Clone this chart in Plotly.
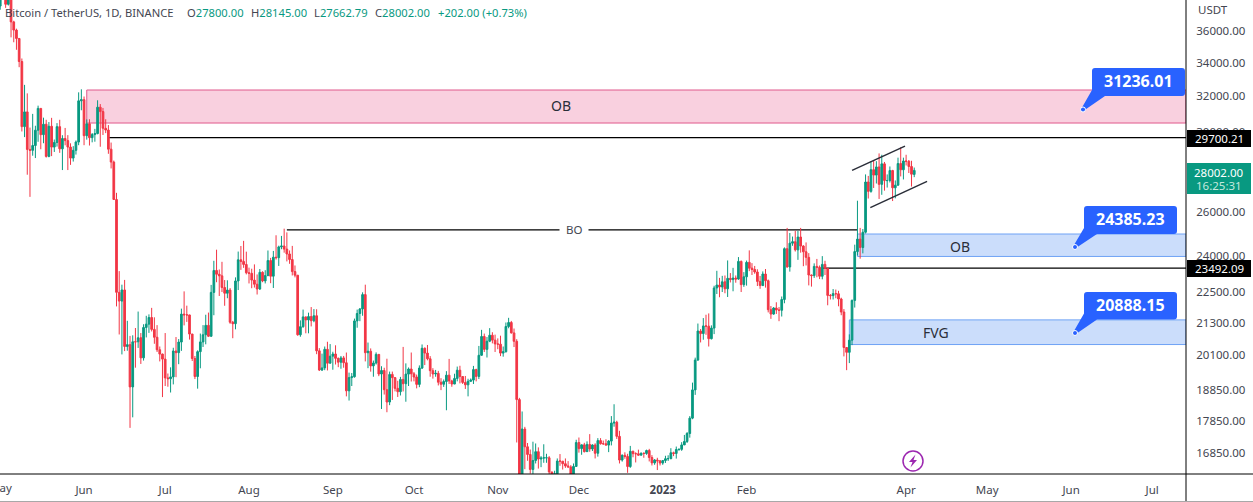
import math
import pandas as pd
import plotly.graph_objects as go

# ---------- data ----------
closes = [
38469,38529,37750,39698,36575,36040,35501,34059,30296,31109,29078,29031,29284,30101,31305,29862,30425,28716,30314,29201,29445,30293,29109,29655,29543,29201,28629,29031,29468,31734,31801,
29805,30452,29700,29865,29919,31373,31125,30204,30109,29091,28424,26574,22487,22136,22583,20401,20468,18970,20574,20573,20723,19987,21110,21237,21491,21038,20742,20281,20123,19942,
19279,19252,19315,20236,20175,20564,21624,21594,21591,20862,19963,19328,20212,20569,20836,21190,20779,22485,23389,23231,23164,22684,22451,22579,21310,21254,22952,23842,23774,23643,23293,
23268,22987,22818,22622,23312,22954,23175,23810,23149,23954,23934,24403,24441,24305,24094,23854,23342,23191,20834,21140,21516,21399,21529,21368,21560,20241,19555,19630,20297,19796,20049,
20127,19969,19832,19986,19812,18837,19290,19319,21361,21648,21826,22395,20173,20227,19701,19803,20113,19416,19537,18875,18461,19401,19288,18920,18807,19227,19079,19412,19591,19422,
19310,19056,19623,20335,20160,19955,19531,19417,19439,19131,19060,19155,19375,19176,19068,19262,19549,19327,19123,19041,19164,19204,19570,19330,20080,20771,20295,20595,20818,20635,20495,
20485,20159,20209,21148,21300,20905,20591,18542,15880,17586,17034,16799,16353,16618,16884,16663,16692,16700,16700,16280,15781,16226,16603,16598,16522,16458,16428,16212,16442,17163,
16977,17092,16885,17105,16967,17089,16836,17224,17128,17127,17085,17209,17775,17803,17356,16632,16776,16738,16438,16895,16824,16821,16778,16837,16830,16919,16707,16547,16633,16607,16542,
16616,16672,16674,16851,16830,16951,16955,17091,17196,17446,17934,18869,19909,20976,20880,21169,21161,20688,21086,22666,22783,22707,22917,22632,23060,23009,23074,23031,23774,22801,23125,
23733,23488,23431,23326,22933,22762,23240,22963,21796,21625,21862,21783,21773,22200,24324,23538,24566,24631,24272,24838,24439,24189,23947,23198,23175,23561,23522,23147,
23647,23475,22362,22354,22435,22429,22219,21705,20363,20187,20633,22163,24197,24746,24375,25055,27423,26965,28038,27767,28176,27307,28333,27493,27494,27994,27139,27268,28348,28033,28478,
28465,28199,27811,28002]
highs = [
38670,39168,38650,40023,39845,36650,36132,35502,34245,32658,32162,30243,30998,30343,31460,31305,30788,30670,30545,30777,29600,30487,30670,29830,30223,29835,29400,29250,29550,32222,32399,
31982,30690,30700,29950,30172,31765,31550,31330,30700,30380,29440,28500,26895,23362,22800,22995,21365,20792,20815,21090,21723,20900,21233,21558,21614,21868,21500,21200,20400,20141,
20900,19433,19650,20354,20750,20675,21838,22527,21955,21600,20868,20055,20260,20880,21200,21600,21683,22790,23800,24280,23430,23756,22990,22980,22660,21360,23100,24199,24442,24668,24194,
23509,23463,23647,23223,23450,23354,23400,24245,23925,24226,24918,24456,24889,25214,25047,24247,24446,23600,23200,21382,21800,21522,21680,21900,21820,21813,20340,20140,20400,20575,20489,
20208,20444,20000,20055,20057,20180,19464,19449,21450,21800,21860,22488,22799,20545,20330,19890,20185,20100,19689,19635,19957,19500,19500,19310,19180,19315,20385,19790,19645,20180,
19484,19395,19719,20475,20365,20456,20050,19620,19558,19525,19270,19225,19515,19950,19215,19425,19676,19705,19345,19347,19250,19260,19700,19600,20420,21020,20880,20750,21085,20930,20840,
20700,20800,20400,21300,21480,21360,21070,20670,18600,18150,17655,17150,16950,17190,17135,17015,16750,17110,16820,16750,16280,16315,16680,16812,16600,16680,16600,16480,16530,17250,
17320,17105,17155,17200,17425,17110,17140,17300,17300,17225,17265,17240,18000,18387,17850,17530,16800,16865,16820,17060,16915,16865,16945,16860,16860,16945,16970,16780,16660,16700,16630,
16625,16760,16775,16990,16885,17040,16980,17175,17400,17490,18000,19117,19995,21260,21050,21470,21600,21650,21190,22755,23375,23080,23165,23180,23815,23280,23500,23180,23960,23810,23320,
23810,24250,23700,23580,23440,23160,23350,23450,23010,21940,21900,22090,21900,22320,24380,25250,25020,24860,25120,25120,25250,24475,24600,24130,23220,23690,23880,23600,
24000,23800,23480,22420,22620,22600,22550,22270,21820,20370,20850,22200,24500,26515,25250,25200,27800,27725,28470,28530,28470,28870,28800,28430,27800,28200,28030,27500,28650,29190,28650,
28800,28530,28490,28145]
lows = [
37386,38052,37510,37670,35571,35258,34785,33713,30033,29730,27785,26700,28751,28630,29480,29087,29404,28654,28670,28730,28947,29227,28900,28019,29294,28019,28282,28450,28810,29300,31200,
29300,29594,29282,29451,29485,29880,29218,29843,29944,28850,28100,26560,21925,20846,20111,20232,20246,17622,17960,19637,20348,19770,19890,20736,20906,20960,20500,20200,19860,18626,
19000,18976,18780,19055,19304,19761,20240,21189,21322,20655,19875,19240,18910,19616,20382,20480,20750,20760,21580,22900,22341,22500,21950,22250,21250,20706,21040,22580,23414,23500,23225,
22850,22654,22681,22400,22586,22900,22850,23150,22860,22664,23852,23580,24300,24150,23773,23671,23180,23100,20800,20761,21100,20890,20890,21150,21310,20120,19520,19520,19550,19540,19800,
19565,19750,19655,19600,19636,18650,18510,19000,19290,21100,21350,21560,19860,19620,19497,19320,19750,19340,18232,18711,18125,18357,18530,18818,18630,18680,18816,18471,19000,19155,
19160,18920,18960,19590,19730,19900,19320,19255,19320,19020,18860,18970,18190,19070,18975,19065,19160,19090,19070,18900,18650,19140,19070,19160,19240,20060,20200,20000,20560,20515,20200,
20300,20050,20030,20180,21080,20880,20380,17166,15588,15750,16361,16610,16230,15815,16530,16378,16420,16550,16550,15960,15480,15620,16160,16460,16350,16400,16400,15995,16100,16430,
16855,16790,16860,16880,16880,16905,16680,16735,17100,17090,17070,16870,17075,17660,17275,16530,16585,16670,16255,16400,16715,16560,16760,16785,16700,16790,16590,16470,16490,16335,16470,
16490,16545,16605,16655,16750,16675,16910,16910,17085,17150,17315,17900,18700,19880,20550,20650,20835,20400,20660,20860,22420,22290,22500,22450,22300,22890,22530,22880,23000,22500,22710,
22760,23360,23200,23250,22745,22630,22750,22680,21690,21440,21600,21630,21350,21530,22050,23505,23340,24450,24200,23840,24150,23570,23600,22770,22720,23080,23105,23030,
23020,23200,21970,22200,22200,22250,21930,21580,20040,19550,19800,20450,21880,24030,23890,24120,25000,26620,26900,27130,27350,26600,26800,27000,27150,27400,26500,26630,27240,27700,27550,
28250,27870,27200,27662.79]
first_open = 37630
last_open = 27800

price_ticks = [36000, 34000, 32000, 30000, 26000, 24000, 22500, 21300, 20100, 18850, 17850, 16850]
time_tick_dates = ["2022-06-01","2022-07-01","2022-08-01","2022-09-01","2022-10-01","2022-11-01","2022-12-01","2023-01-01","2023-02-01","2023-04-01","2023-05-01","2023-06-01","2023-07-01"]
time_tick_labels = ["Jun","Jul","Aug","Sep","Oct","Nov","Dec","<b>2023</b>","Feb","Apr","May","Jun","Jul"]

ob_upper = dict(x0="2022-06-02", y0=32358, y1=30492)
level_upper = dict(x0="2022-06-10", y=29700.21)
bo_level = dict(x0="2022-08-15", x1="2023-03-14", y=25160)
ob_lower = dict(x0="2023-03-14", y0=24975, y1=23987)
level_lower = dict(x0="2023-03-01", y=23492.09)
fvg = dict(x0="2023-03-11", y0=21400, y1=20472)
channel_top = dict(x0="2023-03-12", y0=28005, x1="2023-03-31 14:00", y1=29252)
channel_bottom = dict(x0="2023-03-18 18:00", y0=26190, x1="2023-04-08 18:00", y1=27456)

GREEN, RED = "#089981", "#f23645"
FONT = "Noto Sans"
TXT = "#434651"
BLUE = "#2962ff"
W, H, PW, PH = 1253, 502, 1186, 474

def px(x, y):
    return x / PW, 1 - y / PH

def pstr(x, y):
    a, b = px(x, y)
    return f"{a:.5f} {b:.5f}"

opens = [first_open] + closes[:-1]
opens[-1] = last_open
dates = pd.date_range("2022-05-01", periods=len(closes), freq="D")

fig = go.Figure(go.Candlestick(
    x=dates, open=opens, high=highs, low=lows, close=closes,
    increasing=dict(line=dict(color=GREEN, width=1), fillcolor=GREEN),
    decreasing=dict(line=dict(color=RED, width=1), fillcolor=RED),
    whiskerwidth=0, showlegend=False))

RIGHT = "2023-07-13 12:00"
shapes = []
def rect(x0, y0, y1, fill, edge):
    shapes.append(dict(type="rect", xref="x", yref="y", x0=x0, x1=RIGHT, y0=y0, y1=y1,
                       fillcolor=fill, line=dict(color=edge, width=1), layer="below"))
def hline(x0, x1, y):
    shapes.append(dict(type="line", xref="x", yref="y", x0=x0, x1=x1, y0=y, y1=y,
                       line=dict(color="#000000", width=1.3), layer="below"))

rect(ob_upper["x0"], ob_upper["y0"], ob_upper["y1"], "#f9d0df", "#e0588c")
rect(ob_lower["x0"], ob_lower["y0"], ob_lower["y1"], "#cbddfb", "#6ea2f5")
rect(fvg["x0"], fvg["y0"], fvg["y1"], "#cbddfb", "#6ea2f5")
hline(level_upper["x0"], RIGHT, level_upper["y"])
hline(level_lower["x0"], RIGHT, level_lower["y"])
hline(bo_level["x0"], bo_level["x1"], bo_level["y"])
for c in (channel_top, channel_bottom):
    shapes.append(dict(type="line", xref="x", yref="y", line=dict(color="#2a2e39", width=1.5), layer="above", **c))

def paper_line(x0, y0, x1, y1, color, width=1):
    a, b = px(x0, y0); c, d = px(x1, y1)
    shapes.append(dict(type="line", xref="paper", yref="paper", x0=a, y0=b, x1=c, y1=d,
                       line=dict(color=color, width=width), layer="above"))

def tag(x0, y0, x1, y1, color):
    a, b = px(x0, y0); c, d = px(x1, y1)
    shapes.append(dict(type="rect", xref="paper", yref="paper", x0=a, y0=b, x1=c, y1=d,
                       fillcolor=color, line=dict(width=0), layer="above"))

tag(1187, 130, 1251, 147, "#000000")
tag(1187, 260, 1251, 277, "#000000")
tag(1187, 163, 1251, 194, GREEN)
paper_line(1186, 0, 1186, 502, "#000000")
paper_line(0, 474, 1253, 474, "#000000")
paper_line(0, 501.5, 1253, 501.5, "#a8a8a8", 1)

annotations = []
def label(x, y, text, size=11.5, color=TXT, xanchor="center", bg=None, family=FONT):
    a, b = px(x, y)
    annotations.append(dict(x=a, y=b, xref="paper", yref="paper", text=text, showarrow=False,
                            xanchor=xanchor, yanchor="middle", bgcolor=bg, borderpad=0,
                            font=dict(family=family, size=size, color=color)))

def callout(x0, y0, x1, y1, tipx, tipy, text):
    r = 3
    d = (f"M {pstr(x0+r,y0)} L {pstr(x1-r,y0)} Q {pstr(x1,y0)} {pstr(x1,y0+r)} "
         f"L {pstr(x1,y1-r)} Q {pstr(x1,y1)} {pstr(x1-r,y1)} "
         f"L {pstr(x0+13,y1)} L {pstr(tipx+1,tipy+1)} L {pstr(tipx-1,tipy-2)} L {pstr(x0,y1-6)} "
         f"L {pstr(x0,y0+r)} Q {pstr(x0,y0)} {pstr(x0+r,y0)} Z")
    shapes.append(dict(type="path", xref="paper", yref="paper", path=d, fillcolor=BLUE,
                       line=dict(width=0), layer="above"))
    a, b = px(tipx-2.5, tipy-2.5); c, e = px(tipx+2.5, tipy+2.5)
    shapes.append(dict(type="circle", xref="paper", yref="paper", x0=a, y0=b, x1=c, y1=e,
                       fillcolor=BLUE, line=dict(color="#ffffff", width=1), layer="above"))
    label((x0+x1)/2, (y0+y1)/2 - 0.5, f"<b>{text}</b>", size=16, color="#ffffff")

callout(1092, 68, 1185, 96, 1083, 109.5, "31236.01")
callout(1084, 206, 1177, 234, 1075, 247, "24385.23")
callout(1084, 292, 1177, 319.5, 1075, 333, "20888.15")

# icon: circle with bolt
a, b = px(903, 451); c, d = px(923, 471)
shapes.append(dict(type="circle", xref="paper", yref="paper", x0=a, y0=b, x1=c, y1=d,
                   fillcolor="#ffffff", line=dict(color="#9c27b0", width=1.5), layer="above"))
bolt = (f"M {pstr(915.5,454.5)} L {pstr(909,462)} L {pstr(912.5,462)} L {pstr(910.5,467.5)} "
        f"L {pstr(917,460)} L {pstr(913.5,460)} Z")
shapes.append(dict(type="path", xref="paper", yref="paper", path=bolt, fillcolor="#9c27b0",
                   line=dict(width=0), layer="above"))

label(561, 106, "OB", size=14, color="#2a2e39")
label(960, 246, "OB", size=14, color="#2a2e39")
label(936, 332, "FVG", size=14, color="#2a2e39")
label(574, 229, "&nbsp;&nbsp;BO&nbsp;&nbsp;", bg="#ffffff")
label(1197, 10, "USDT", xanchor="left")
label(1219, 138.5, "29700.21", color="#ffffff")
label(1219, 268.5, "23492.09", color="#ffffff")
label(1219, 172, "28002.00", color="#ffffff")
label(1219, 185, "16:25:31", color="#c4e8de")
label(0, 487, "May")
g = lambda s: f'<span style="color:{GREEN}">{s}</span>'
label(4, 12, "Bitcoin / TetherUS, 1D, BINANCE", size=11.2, xanchor="left")
label(186, 12, f"O{g('27800.00')}", size=11.2, xanchor="left")
label(250, 12, f"H{g('28145.00')}", size=11.2, xanchor="left")
label(313, 12, f"L{g('27662.79')}", size=11.2, xanchor="left")
label(374, 12, f"C{g('28002.00')}", size=11.2, xanchor="left")
label(437, 12, g("+202.00 (+0.73%)"), size=11.2, xanchor="left")

K = 556.0
BASE = 30.7
fig.update_layout(
    width=W, height=H, autosize=False,
    margin=dict(l=0, r=W-PW, t=0, b=H-PH, pad=0),
    paper_bgcolor="#ffffff", plot_bgcolor="#ffffff",
    boxgap=0.1,
    font=dict(family=FONT, size=12, color=TXT),
    shapes=shapes, annotations=annotations, showlegend=False,
    xaxis=dict(type="date", rangeslider=dict(visible=False),
               range=["2022-04-30 22:00", RIGHT],
               tickmode="array", tickvals=time_tick_dates, ticktext=time_tick_labels,
               showgrid=False, zeroline=False, showline=False, ticks="outside", ticklen=5, tickcolor="rgba(0,0,0,0)",
               tickangle=0, automargin=False,
               tickfont=dict(family=FONT, size=11.5, color=TXT)),
    yaxis=dict(type="log", side="right",
               range=[math.log10(36000*math.exp(-(474-BASE)/K)), math.log10(36000*math.exp(BASE/K))],
               tickmode="array", tickvals=price_ticks, ticktext=[f"{v:.2f}" for v in price_ticks],
               showgrid=False, zeroline=False, showline=False, ticks="outside", ticklen=7, tickcolor="rgba(0,0,0,0)",
               automargin=False, tickfont=dict(family=FONT, size=11.5, color=TXT)),
)
fig.write_html("out.html", config=dict(displayModeBar=False),
               post_script="document.body.style.margin='0';document.documentElement.style.overflow='hidden';")
